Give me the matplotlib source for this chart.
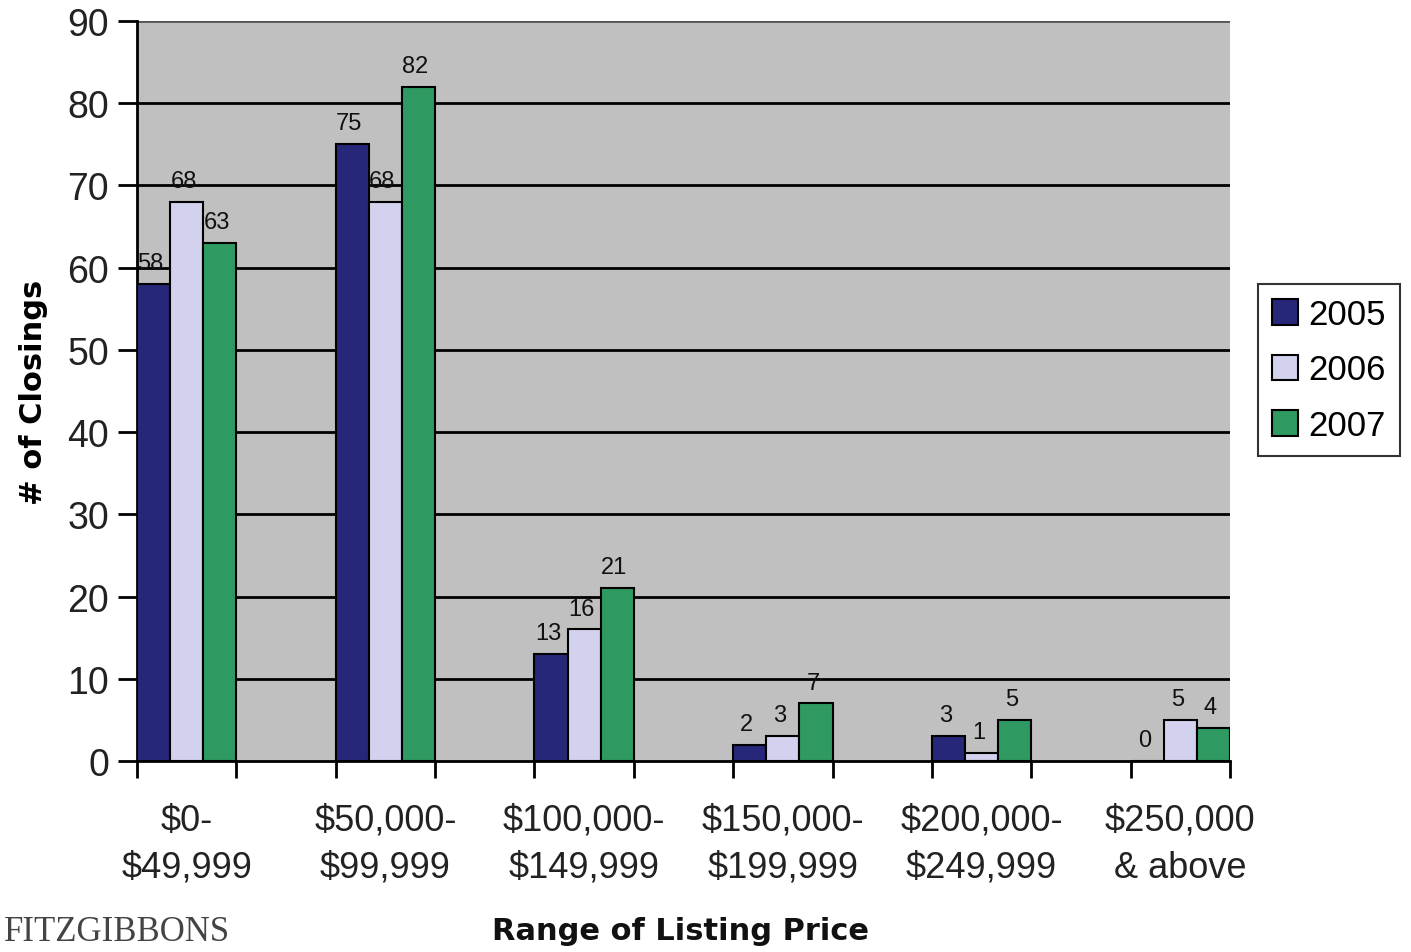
import matplotlib
matplotlib.use("Agg")
import matplotlib.pyplot as plt
import numpy as np

categories = ["$0-\n$49,999", "$50,000-\n$99,999", "$100,000-\n$149,999",
              "$150,000-\n$199,999", "$200,000-\n$249,999", "$250,000\n& above"]
years = ["2005", "2006", "2007"]
v2005 = [58, 75, 13, 2, 3, 0]
v2006 = [68, 68, 16, 3, 1, 5]
v2007 = [63, 82, 21, 7, 5, 4]
series = [v2005, v2006, v2007]
colors = ["#27277a", "#d2d2ee", "#2e9a62"]

fig = plt.figure(figsize=(14.11, 9.53), dpi=100)
ax = fig.add_axes([137/1411, 1-762/953, (1230-137)/1411, (762-22)/953])
ax.set_facecolor("#c0c0c0")

centers = np.arange(len(categories)) * 2.0
w = 1/3
for k, (vals, col, yr) in enumerate(zip(series, colors, years)):
    xs = centers + (k - 1) * w
    ax.bar(xs, vals, width=w, color=col, edgecolor="black", linewidth=1.5, label=yr, zorder=3)
    for x, v in zip(xs, vals):
        ax.text(x - 0.03, v + 1.2, str(v), ha="center", va="bottom", fontsize=17,
                family="Liberation Sans", color="#111111", zorder=4)

ax.set_xlim(-0.5, centers[-1] + 0.5)
ax.set_ylim(0, 90)
ax.set_yticks(np.arange(0, 91, 10))
for y in range(10, 90, 10):
    ax.axhline(y, color="black", linewidth=2, zorder=1)
ax.axhline(90, color="#555555", linewidth=2, zorder=1)

edges = np.concatenate([centers - 0.5, centers + 0.5])
ax.set_xticks(np.sort(edges))
ax.set_xticklabels([])
ax.set_xticks(centers, minor=True)
ax.set_xticklabels(categories, minor=True, fontsize=26, family="Liberation Sans", color="#222222",
                   linespacing=1.45)
ax.tick_params(axis="x", which="major", length=12, width=2, direction="out")
ax.tick_params(axis="x", which="minor", length=0, pad=30)
ax.tick_params(axis="y", length=14, width=2, direction="out", labelsize=27, pad=6)
for lab in ax.get_yticklabels():
    lab.set_family("Liberation Sans")
    lab.set_color("#222222")

for s in ["top", "right"]:
    ax.spines[s].set_visible(False)
ax.spines["left"].set_linewidth(2)
ax.spines["bottom"].set_linewidth(2)

ax.set_ylabel("# of Closings", fontsize=22, fontweight="bold", labelpad=14)
fig.text(681/1411, 1-932/953, "Range of Listing Price", ha="center", va="center",
         fontsize=22, fontweight="bold", family="DejaVu Sans", color="#111111")

leg = ax.legend(loc="center left", bbox_to_anchor=((1258-137)/1093, 1-(371-22)/740), frameon=True,
                prop={"family": "Liberation Sans", "size": 25}, handlelength=0.75, handleheight=0.75,
                handletextpad=0.3, borderpad=0.4, labelspacing=0.65, borderaxespad=0,
                fancybox=False, edgecolor="black")
leg.get_frame().set_linewidth(1.5)

fig.text(0.003, 0.004, "FITZGIBBONS", ha="left", va="bottom", fontsize=25,
         family="Liberation Serif", color="#444444")

fig.savefig("out.png", dpi=100)
